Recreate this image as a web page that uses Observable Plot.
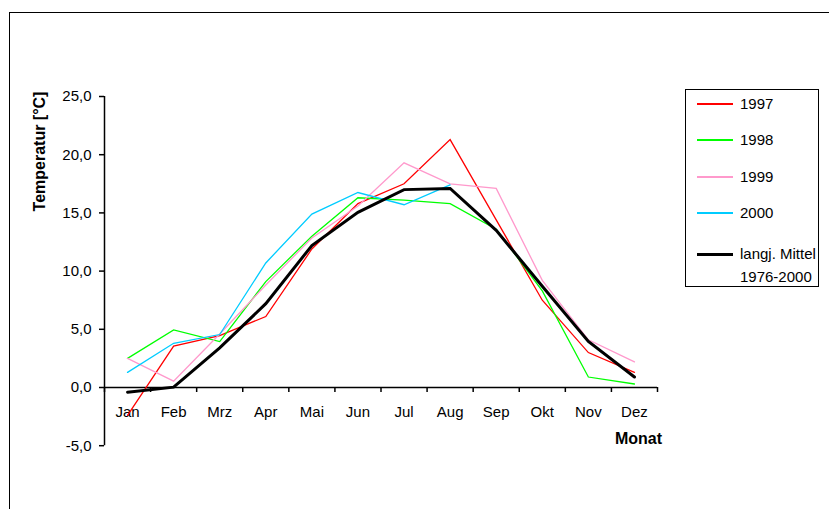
<!DOCTYPE html>
<html>
<head>
<meta charset="utf-8">
<script src="https://cdn.jsdelivr.net/npm/d3@7"></script>
<script src="https://cdn.jsdelivr.net/npm/@observablehq/plot@0.6"></script>
<style>
  html, body { margin: 0; padding: 0; background: #fff; }
  #wrap { position: relative; width: 829px; height: 509px; overflow: hidden; font-family: "Liberation Sans", Arial, sans-serif; }
  #wrap svg { position: absolute; left: 0; top: 0; }
  #frame { position: absolute; left: 9px; top: 12px; width: 830px; height: 520px; border: 1px solid #000; box-sizing: border-box; }
  #legend { position: absolute; left: 685px; top: 89px; width: 134px; height: 198px; border: 1px solid #000; box-sizing: border-box; background: #fff; }
  .lg-line { position: absolute; left: 11px; width: 36px; }
  .lg-text { position: absolute; left: 54px; height: 18px; line-height: 18px; font-size: 15px; color: #000; white-space: nowrap; }
</style>
</head>
<body>
<div id="wrap">
  <div id="frame"></div>
</div>
<script>
// ---- data ----
const months = ["Jan","Feb","Mrz","Apr","Mai","Jun","Jul","Aug","Sep","Okt","Nov","Dez"];
const t1997 = [-2.4, 3.55, 4.45, 6.1, 11.9, 15.8, 17.5, 21.3, 14.4, 7.5, 3.0, 1.3];
const t1998 = [2.5, 4.95, 3.95, 9.1, 13.0, 16.3, 16.1, 15.8, 13.6, 8.3, 0.9, 0.3];
const t1999 = [2.5, 0.55, 4.6, 8.8, 12.85, 15.6, 19.3, 17.5, 17.1, 9.2, 4.1, 2.2];
const t2000 = [1.3, 3.8, 4.55, 10.7, 14.9, 16.75, 15.7, 17.4, null, null, null, null];
const tMean = [-0.4, 0.03, 3.4, 7.2, 12.2, 15.05, 17.0, 17.1, 13.5, 8.7, 3.95, 0.9];
const yTicks = [-5, 0, 5, 10, 15, 20, 25];
const seriesNames = ["1997", "1998", "1999", "2000", "langj. Mittel 1976-2000"];
const seriesColors = ["#ff0000", "#00ff00", "#ff99cc", "#00ccff", "#000000"];
const seriesWidths = [1.3, 1.3, 1.3, 1.3, 3];

const allSeries = [t1997, t1998, t1999, t2000, tMean];
const idx = months.map((_, i) => i + 1);
const bounds = d3.range(0.5, 12.6, 1);

const table = (vals) => vals.map((v, i) => ({m: i + 1, v}));

const lineMarks = allSeries.map((vals, s) =>
  Plot.line(table(vals), {x: "m", y: "v", stroke: seriesColors[s], strokeWidth: seriesWidths[s], strokeLinejoin: "miter", strokeMiterlimit: 2})
);

const chart = Plot.plot({
  width: 829,
  height: 509,
  marginLeft: 104,
  marginRight: 172,
  marginTop: 96,
  marginBottom: 122,
  style: {fontFamily: "'Liberation Sans', Arial, sans-serif", fontSize: "14px", color: "#000", background: "transparent", overflow: "visible"},
  x: {domain: [0.5, 12.5]},
  y: {domain: [0, 25]},
  marks: [
    Plot.axisY({ticks: yTicks, tickSize: 5, tickPadding: 8, strokeWidth: 1.5, tickFormat: d => d.toFixed(1).replace(".", ","), label: null, fontSize: 15}),
    Plot.axisX({ticks: bounds, tickSize: 5, strokeWidth: 1.5, tickFormat: () => "", label: null}),
    Plot.axisX({ticks: idx, tickSize: 0, tickPadding: 19, tickFormat: i => months[i - 1], label: null, fontSize: 15}),
    Plot.ruleX([0.5], {y1: -5, y2: 25, strokeWidth: 1.5}),
    Plot.ruleY([0], {strokeWidth: 1.5}),
    ...lineMarks,
    Plot.text(["Temperatur [°C]"], {frameAnchor: "top-left", rotate: -90, dx: -71, dy: 55, fontSize: 16, fontWeight: "bold", textAnchor: "middle"}),
    Plot.text(["Monat"], {frameAnchor: "bottom-right", dx: -19, dy: 56, fontSize: 16, fontWeight: "bold", textAnchor: "middle"})
  ]
});
document.getElementById("wrap").appendChild(chart);

// ---- legend ----
const legend = document.createElement("div");
legend.id = "legend";
const rowCenters = [14, 50, 87, 123, 164];
seriesNames.forEach((name, s) => {
  const ln = document.createElement("div");
  ln.className = "lg-line";
  ln.style.top = (rowCenters[s] - seriesWidths[s] / 2) + "px";
  ln.style.height = seriesWidths[s] + "px";
  ln.style.background = seriesColors[s];
  legend.appendChild(ln);
  const parts = s === 4 ? ["langj. Mittel", "1976-2000"] : [name];
  parts.forEach((p, k) => {
    const tx = document.createElement("div");
    tx.className = "lg-text";
    tx.style.top = (rowCenters[s] - 9 + k * 23) + "px";
    tx.textContent = p;
    legend.appendChild(tx);
  });
});
document.getElementById("wrap").appendChild(legend);
</script>
</body>
</html>
